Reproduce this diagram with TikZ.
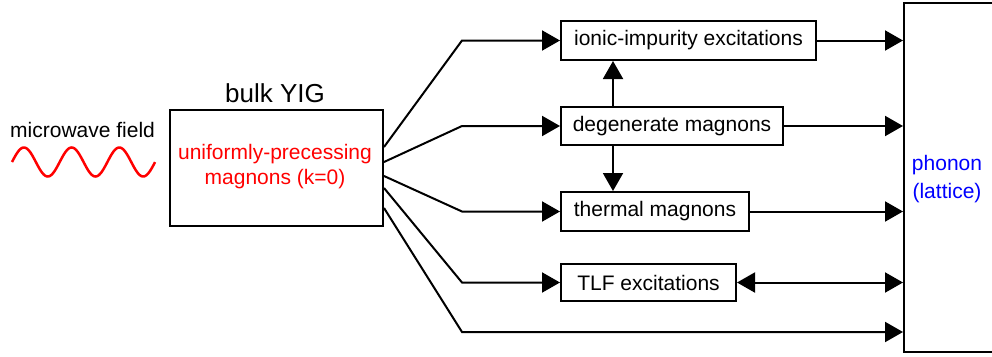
\documentclass[tikz,border=0pt]{standalone}
\usepackage{fontspec}
\setmainfont{Liberation Sans}
\usetikzlibrary{arrows.meta,calc}

\tikzset{
  procbox/.style={draw, line width=2pt, inner sep=0pt, align=center,
    font=\fontsize{21}{25}\selectfont},
  arr/.style={line width=2pt, -{Triangle[length=18pt,width=20pt]}},
  dblarr/.style={line width=2pt, {Triangle[length=18pt,width=20pt]}-{Triangle[length=18pt,width=20pt]}},
  txt/.style={inner sep=0pt, font=\fontsize{21}{25}\selectfont},
}

\begin{document}
\begin{tikzpicture}[x=1pt, y=-1pt]
\useasboundingbox (0,0) rectangle (992,356);
\clip (0,0) rectangle (992,356);

% incoming microwave field
\node[txt, anchor=base west] (mwlabel) at (10,137) {microwave field};
\draw[red, line width=2.5pt, domain=0:3, samples=150, smooth]
  plot ({12+\x*47.7}, {162-14.5*sin(\x*360)});

% bulk YIG with the k=0 magnons
\node[procbox, minimum width=213pt, minimum height=116pt] (yig) at (276.5,168) {};
\node[inner sep=0pt, anchor=base, font=\fontsize{26}{30}\selectfont] (bulk) at (275,102) {bulk YIG};
\node[txt, red, anchor=base] (uni1) at (275,159) {uniformly-precessing};
\node[txt, red, anchor=base] (uni2) at (275,184) {magnons (k=0)};

% intermediate excitations
\node[procbox, minimum width=255pt, minimum height=39pt] (ion) at (688.5,40.5) {ionic-impurity excitations};
\node[procbox, minimum width=222pt, minimum height=38pt] (deg) at (672,126) {degenerate magnons};
\node[procbox, minimum width=188pt, minimum height=39pt] (thm) at (655,211.5) {thermal magnons};
\node[procbox, minimum width=175pt, minimum height=37pt] (tlf) at (648.5,282.5) {TLF excitations};

% phonon bath (lattice), running off the right edge
\node[draw, line width=2pt, minimum width=130pt, minimum height=349pt, inner sep=0pt] (phon) at (969,177.5) {};
\node[txt, blue, align=center] (phtext) at (947,179) {phonon\\[3pt](lattice)};

% fan-out from the YIG box
\coordinate (ex) at (462,0);
\coordinate (ey) at (0,332);
\draw[arr] ($(yig.east)+(0,-21)$) -- (ion.west -| ex) -- (ion.west);
\draw[arr] ($(yig.east)+(0,-6)$) -- (deg.west -| ex) -- (deg.west);
\draw[arr] ($(yig.east)+(0,8)$) -- (thm.west -| ex) -- (thm.west);
\draw[arr] ($(yig.east)+(0,20)$) -- (tlf.west -| ex) -- (tlf.west);
\draw[arr] ($(yig.east)+(0,40)$) -- (ex |- ey) -- (phon.west |- ey);

% couplings between the excitations
\coordinate (vx) at (613,0);
\draw[arr] (deg.north -| vx) -- (ion.south -| vx);
\draw[arr] (deg.south -| vx) -- (thm.north -| vx);

% relaxation into the lattice
\draw[arr] (ion.east) -- (ion.east -| phon.west);
\draw[arr] (deg.east) -- (deg.east -| phon.west);
\draw[arr] (thm.east) -- (thm.east -| phon.west);
\draw[dblarr] (tlf.east) -- (tlf.east -| phon.west);
\end{tikzpicture}
\end{document}
